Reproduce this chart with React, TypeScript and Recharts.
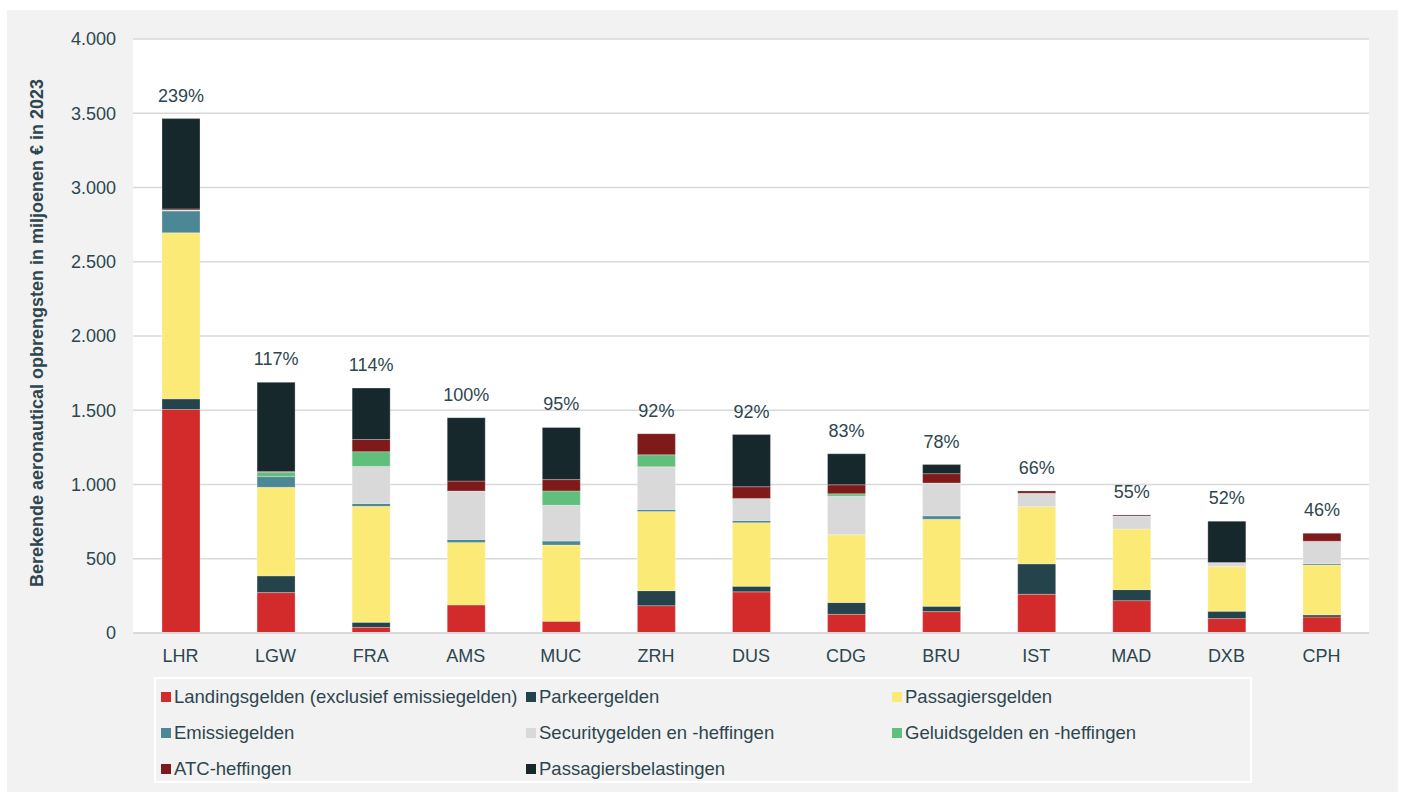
import { BarChart, Bar, XAxis, YAxis, CartesianGrid, Legend, LabelList } from "recharts";

const airports = ["LHR", "LGW", "FRA", "AMS", "MUC", "ZRH", "DUS", "CDG", "BRU", "IST", "MAD", "DXB", "CPH"];
const landingsgelden = [1505, 272, 38, 189, 79, 184, 277, 126, 144, 261, 218, 97, 108];
const parkeergelden = [72, 113, 34, 0, 0, 101, 38, 79, 36, 205, 74, 50, 14];
const passagiersgelden = [1118, 596, 781, 421, 513, 533, 428, 457, 586, 385, 408, 300, 336];
const emissiegelden = [147, 72, 19, 20, 27, 13, 14, 0, 23, 0, 0, 0, 9];
const securitygelden = [6, 0, 250, 326, 241, 288, 149, 259, 221, 90, 88, 27, 151];
const geluidsgelden = [0, 29, 99, 0, 97, 81, 0, 16, 0, 0, 0, 0, 0];
const atcHeffingen = [8, 5, 82, 67, 76, 142, 79, 61, 63, 16, 7, 0, 54];
const passagiersbelastingen = [608, 601, 346, 427, 351, 0, 351, 209, 61, 0, 0, 279, 0];
const percentLabels = ["239%", "117%", "114%", "100%", "95%", "92%", "92%", "83%", "78%", "66%", "55%", "52%", "46%"];
const yTicks = [0, 500, 1000, 1500, 2000, 2500, 3000, 3500, 4000];

const series = [
  { key: "landing", name: "Landingsgelden (exclusief emissiegelden)", color: "#d32b2b", values: landingsgelden },
  { key: "parkeer", name: "Parkeergelden", color: "#24434a", values: parkeergelden },
  { key: "passagier", name: "Passagiersgelden", color: "#fcea77", values: passagiersgelden },
  { key: "emissie", name: "Emissiegelden", color: "#4b8794", values: emissiegelden },
  { key: "security", name: "Securitygelden en -heffingen", color: "#d9d9d9", values: securitygelden },
  { key: "geluid", name: "Geluidsgelden en -heffingen", color: "#61bf7d", values: geluidsgelden },
  { key: "atc", name: "ATC-heffingen", color: "#7f1a1a", values: atcHeffingen },
  { key: "belasting", name: "Passagiersbelastingen", color: "#17282d", values: passagiersbelastingen },
];

// topmost non-empty segment per airport carries the % label
const topSeries = airports.map((_, i) => {
  let top = 0;
  series.forEach((s, k) => { if (s.values[i] > 0) top = k; });
  return top;
});

const data = airports.map((airport, i) => {
  const row: Record<string, string | number> = { airport, pct: percentLabels[i] };
  series.forEach(s => { row[s.key] = s.values[i]; });
  return row;
});

const FONT = '"Liberation Sans", Arial, sans-serif';
const TEXT = "#2d464f";

const formatThousands = (v: number) =>
  v >= 1000 ? `${Math.floor(v / 1000)}.${String(v % 1000).padStart(3, "0")}` : String(v);

const renderLegend = () => (
  <div
    style={{
      boxSizing: "border-box",
      width: 1098,
      height: 106,
      border: "2px solid #ffffff",
      background: "#f2f2f2",
      display: "grid",
      gridTemplateColumns: "365px 366px 360px",
      gridAutoRows: "36px",
      paddingLeft: 5,
      paddingTop: 0,
      fontFamily: FONT,
      fontSize: 18.5,
      color: TEXT,
    }}
  >
    {series.map(s => (
      <div key={s.key} style={{ display: "flex", alignItems: "center", whiteSpace: "nowrap" }}>
        <span style={{ width: 10, height: 10, background: s.color, marginRight: 3, flex: "none" }} />
        {s.name}
      </div>
    ))}
  </div>
);

const makePct = (seriesIdx: number) => (props: any) => {
  const { x, y, width, value } = props;
  const idx = airports.indexOf(value);
  if (idx < 0 || topSeries[idx] !== seriesIdx) return null;
  return (
    <text x={x + width / 2} y={y - 17} textAnchor="middle" fontSize={18} fontFamily={FONT} fill={TEXT}>
      {percentLabels[idx]}
    </text>
  );
};

const renderYTitle = () => (
  <text
    x={37}
    y={333}
    transform="rotate(-90, 37, 333)"
    textAnchor="middle"
    dominantBaseline="central"
    fontSize={18}
    fontWeight="bold"
    fontFamily={FONT}
    fill={TEXT}
  >
    Berekende aeronautical opbrengsten in miljoenen € in 2023
  </text>
);

export default function App() {
  return (
    <div style={{ position: "absolute", left: 0, top: 0, width: 1402, height: 792, background: "#ffffff" }}>
      <div style={{ position: "absolute", left: 7, top: 10, width: 1391, height: 782, background: "#f2f2f2" }} />
      <div style={{ position: "absolute", left: 0, top: 0 }}>
        <BarChart
          width={1402}
          height={792}
          data={data}
          margin={{ top: 39, right: 33, bottom: 129, left: 0 }}
          barSize={38}
        >
          <CartesianGrid vertical={false} stroke="#d9d9d9" strokeWidth={1.5} fill="#ffffff" />
          <XAxis
            dataKey="airport"
            axisLine={{ stroke: "#d9d9d9", strokeWidth: 2 }}
            tickLine={false}
            tickSize={0}
            tickMargin={16}
            tick={{ fontSize: 18, fill: TEXT, fontFamily: FONT }}
            height={30}
          />
          <YAxis
            width={133}
            domain={[0, 4000]}
            ticks={yTicks}
            axisLine={false}
            tickLine={false}
            tickSize={0}
            tickMargin={17}
            tickFormatter={formatThousands}
            tick={{ fontSize: 18, fill: TEXT, fontFamily: FONT }}
            label={{ content: renderYTitle }}
          />
          <Legend
            layout="horizontal"
            verticalAlign="middle"
            align="center"
            content={renderLegend}
            wrapperStyle={{ left: 154, top: 677, width: 1098, height: 106 }}
          />
          {series.map((s, i) => (
            <Bar
              key={s.key}
              dataKey={s.key}
              name={s.name}
              stackId="a"
              fill={s.color}
              stroke="#ffffff"
              strokeOpacity={0.45}
              strokeWidth={0.6}
              isAnimationActive={false}
            >
              <LabelList dataKey="airport" content={makePct(i)} />
            </Bar>
          ))}
        </BarChart>
      </div>
    </div>
  );
}
